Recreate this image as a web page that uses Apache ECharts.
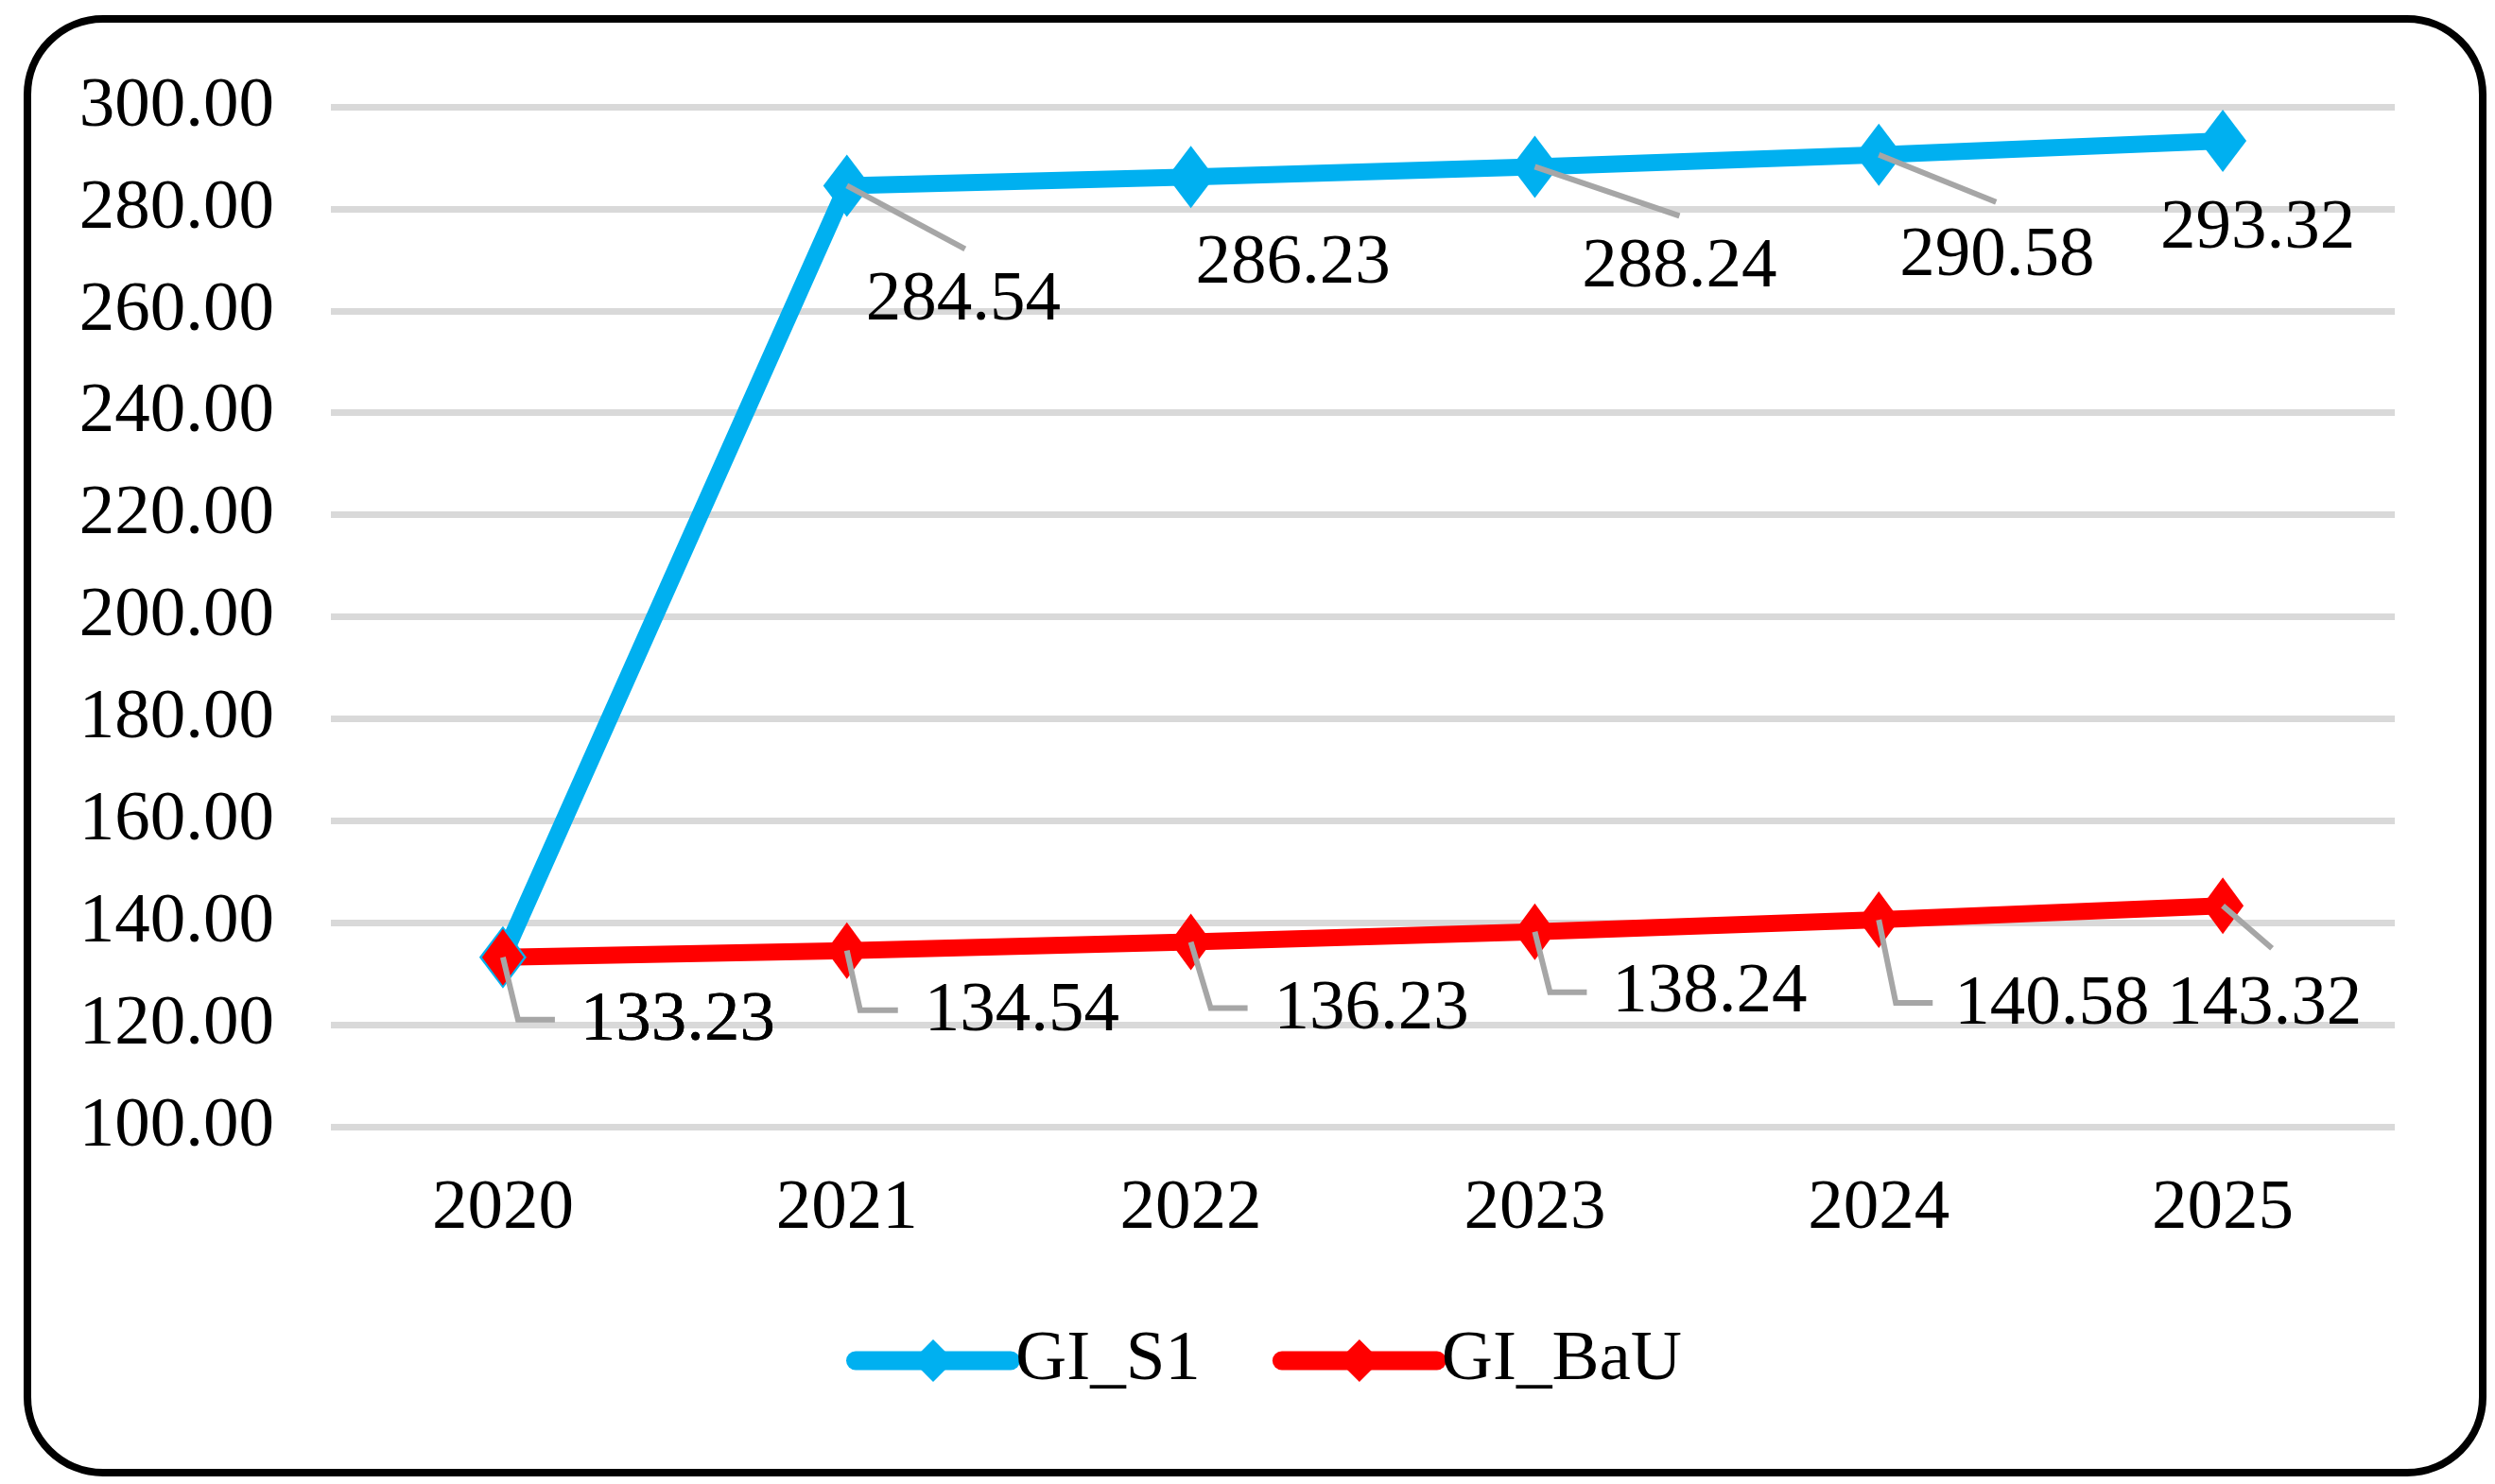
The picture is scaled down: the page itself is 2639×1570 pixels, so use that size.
<!DOCTYPE html>
<html>
<head>
<meta charset="utf-8">
<script src="https://cdn.jsdelivr.net/npm/echarts@6/dist/echarts.min.js"></script>
<style>
  html, body { margin: 0; padding: 0; background: #fff; }
  #main { width: 2639px; height: 1570px; }
</style>
</head>
<body>
<div id="main"></div>
<script>
// data
const years = ["2020", "2021", "2022", "2023", "2024", "2025"];
const giS1 = [133.23, 284.54, 286.23, 288.24, 290.58, 293.32];
const giBaU = [133.23, 134.54, 136.23, 138.24, 140.58, 143.32];
const yMin = 100;
const yMax = 300;
const yStep = 20;

// label placement (px from the point), like the Excel data labels
const s1LabelOffset = [[185, 68], [123, 122], [108, 92], [153, 107], [125, 107], [37, 93]];
const bauLabelOffset = [[185, 68], [185, 65], [191, 72], [185, 65], [183, 90], [44, 105]];
// leader lines, relative to the point
const s1Leader = [null, [[0, 0], [125, 67]], null, [[0, 0], [153, 52]], [[0, 0], [124, 50]], null];
const bauLeader = [
  [[0, 0], [16, 66], [55, 66]],
  [[0, 0], [14, 63], [54, 63]],
  [[0, 0], [21, 70], [60, 70]],
  [[0, 0], [16, 64], [55, 64]],
  [[0, 0], [18, 88], [57, 88]],
  [[0, 0], [52, 45]]
];

const FONT = "'Liberation Serif', 'Times New Roman', serif";

let chart = echarts.init(document.getElementById("main"));

function withLabels(vals, offsets) {
  return vals.map((v, i) => ({ value: v, label: { offset: offsets[i] } }));
}

function leaderSeries(vals, leaders) {
  return {
    type: "custom",
    z: 5,
    silent: true,
    data: vals.map((v, i) => [i, v]),
    renderItem: function(params, api) {
      let pts = leaders[params.dataIndex];
      if (!pts) return null;
      let p = api.coord([api.value(0), api.value(1)]);
      return {
        type: "polyline",
        shape: { points: pts.map(q => [p[0] + q[0], p[1] + q[1]]) },
        style: { stroke: "#A6A6A6", lineWidth: 6, fill: null }
      };
    }
  };
}

let labelStyle = {
  show: true,
  position: "inside",
  fontSize: 75,
  fontFamily: FONT,
  color: "#000",
  formatter: p => p.value.toFixed(2)
};

let option = {
  animation: false,
  backgroundColor: "#fff",
  graphic: [
    {
      type: "rect",
      shape: { x: 29, y: 20, width: 2597, height: 1538, r: 80 },
      style: { fill: null, stroke: "#000", lineWidth: 8 },
      silent: true
    }
  ],
  grid: { left: 350, right: 106, top: 113, bottom: 378 },
  legend: {
    data: ["GI_S1", "GI_BaU"],
    left: 890,
    top: 1397,
    itemWidth: 164,
    itemHeight: 56,
    itemGap: 76,
    lineStyle: { width: 20, cap: "round" },
    textStyle: { fontSize: 75, fontFamily: FONT, color: "#000" }
  },
  xAxis: {
    type: "category",
    data: years,
    boundaryGap: true,
    axisLine: { show: false },
    axisTick: { show: false },
    axisLabel: { fontSize: 75, fontFamily: FONT, color: "#000", margin: 50 },
    splitLine: { show: false }
  },
  yAxis: {
    type: "value",
    min: yMin,
    max: yMax,
    interval: yStep,
    axisLine: { show: false },
    axisTick: { show: false },
    axisLabel: {
      fontSize: 75,
      fontFamily: FONT,
      color: "#000",
      margin: 60,
      formatter: v => v.toFixed(2)
    },
    splitLine: { lineStyle: { color: "#D9D9D9", width: 7 } }
  },
  series: [
    {
      name: "GI_S1",
      type: "line",
      data: withLabels(giS1, s1LabelOffset),
      symbol: "diamond",
      symbolSize: [50, 66],
      showAllSymbol: true,
      itemStyle: { color: "#00B0F0" },
      lineStyle: { color: "#00B0F0", width: 18 },
      label: labelStyle,
      emphasis: { disabled: true }
    },
    {
      name: "GI_BaU",
      type: "line",
      data: withLabels(giBaU, bauLabelOffset),
      symbol: "diamond",
      symbolSize: [44, 60],
      showAllSymbol: true,
      itemStyle: { color: "#FF0000" },
      lineStyle: { color: "#FF0000", width: 18 },
      label: labelStyle,
      emphasis: { disabled: true }
    },
    leaderSeries(giS1, s1Leader),
    leaderSeries(giBaU, bauLeader)
  ]
};

chart.setOption(option);
window.addEventListener("resize", () => {
  chart.resize();
});
</script>
</body>
</html>
